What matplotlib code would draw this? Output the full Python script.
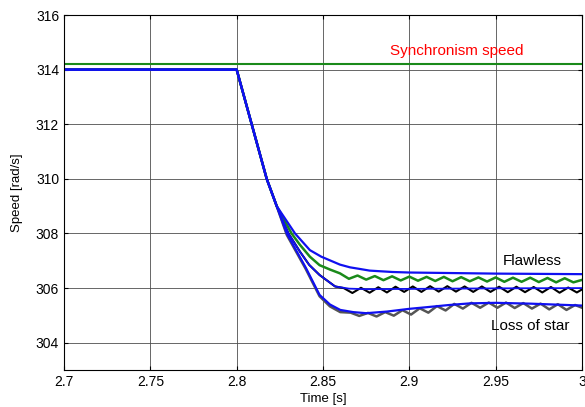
import matplotlib
matplotlib.use("Agg")
import matplotlib.pyplot as plt

plt.rcParams['font.family'] = ['Liberation Sans', 'DejaVu Sans']

# synchronism speed
t_sync = [2.7, 3.0]
v_sync = [314.2, 314.2]

# flawless, filtered (top blue)
t_b1 = [2.7, 2.8, 2.8087, 2.8174, 2.8232, 2.8338, 2.8424, 2.849, 2.8598, 2.8656,
        2.8714, 2.877, 2.89, 2.9, 2.95, 3.0]
v_b1 = [314, 314, 312, 310, 309, 308, 307.39, 307.15, 306.86, 306.76,
        306.70, 306.64, 306.59, 306.57, 306.53, 306.51]

# green rippled
t_g = [2.7, 2.8, 2.8087, 2.8174, 2.8232, 2.8318, 2.8367, 2.8424, 2.848, 2.854, 2.8598,
       2.865, 2.870, 2.875, 2.880, 2.885, 2.890, 2.895, 2.900, 2.905, 2.910,
       2.915, 2.920, 2.925, 2.930, 2.935, 2.940, 2.945, 2.950, 2.955, 2.960,
       2.965, 2.970, 2.975, 2.980, 2.985, 2.990, 2.995, 3.0]
v_g = [314, 314, 312, 310, 309, 308, 307.58, 307.15, 306.84, 306.68, 306.54,
       306.34, 306.46, 306.31, 306.44, 306.29, 306.43, 306.28, 306.42, 306.27, 306.41,
       306.26, 306.41, 306.25, 306.40, 306.25, 306.39, 306.24, 306.39, 306.23, 306.38,
       306.23, 306.38, 306.22, 306.37, 306.21, 306.36, 306.21, 306.30]

# black rippled
t_k = [2.7, 2.8, 2.8087, 2.8174, 2.8232, 2.830, 2.8367, 2.842, 2.848, 2.857,
       2.862, 2.867, 2.872, 2.877, 2.882, 2.887, 2.892, 2.897, 2.902, 2.907,
       2.912, 2.917, 2.922, 2.927, 2.932, 2.937, 2.942, 2.947, 2.952, 2.957,
       2.962, 2.967, 2.972, 2.977, 2.982, 2.987, 2.992, 2.997, 3.0]
v_k = [314, 314, 312, 310, 309, 308, 307.33, 306.85, 306.48, 306.06,
       306.00, 305.82, 306.01, 305.83, 306.03, 305.84, 306.05, 305.86, 306.06, 305.86,
       306.07, 305.87, 306.07, 305.87, 306.06, 305.86, 306.06, 305.86, 306.05, 305.85,
       306.05, 305.85, 306.04, 305.84, 306.04, 305.83, 306.02, 305.84, 305.95]

# middle blue (on black)
t_b2 = [2.7, 2.8, 2.8087, 2.8174, 2.8232, 2.830, 2.8367, 2.842, 2.848, 2.857,
        2.865, 2.875, 2.9, 2.95, 3.0]
v_b2 = [314, 314, 312, 310, 309, 308, 307.33, 306.85, 306.48, 306.06,
        305.98, 305.96, 305.97, 305.99, 306.0]

# loss of star, rippled (dark gray)
t_d = [2.7, 2.8, 2.8087, 2.8174, 2.8232, 2.829, 2.84, 2.848, 2.854, 2.86,
       2.866, 2.871, 2.876, 2.881, 2.886, 2.891, 2.896, 2.901, 2.906, 2.911,
       2.916, 2.921, 2.926, 2.931, 2.936, 2.941, 2.946, 2.951, 2.956, 2.961,
       2.966, 2.971, 2.976, 2.981, 2.986, 2.991, 2.996, 3.0]
v_d = [314, 314, 312, 310, 309, 307.95, 306.7, 305.7, 305.33, 305.12,
       305.10, 304.98, 305.09, 304.96, 305.12, 304.99, 305.19, 305.03, 305.26, 305.10,
       305.34, 305.18, 305.42, 305.25, 305.46, 305.28, 305.47, 305.28, 305.47, 305.27,
       305.45, 305.25, 305.43, 305.22, 305.41, 305.20, 305.38, 305.28]

# loss of star, filtered (lower blue)
t_b3 = [2.7, 2.8, 2.8087, 2.8174, 2.8232, 2.829, 2.84, 2.848, 2.854, 2.86,
        2.8675, 2.875, 2.887, 2.9, 2.91, 2.923, 2.935, 2.95, 2.97, 3.0]
v_b3 = [314, 314, 312, 310, 309, 308, 306.75, 305.75, 305.4, 305.2,
        305.12, 305.08, 305.14, 305.24, 305.3, 305.38, 305.44, 305.46, 305.43, 305.36]

xticks = [2.7, 2.75, 2.8, 2.85, 2.9, 2.95, 3.0]
xlabels = ['2.7', '2.75', '2.8', '2.85', '2.9', '2.95', '3']
yticks = [304, 306, 308, 310, 312, 314, 316]

fig = plt.figure(figsize=(5.85, 4.07), dpi=100)
ax = fig.add_axes([0.1094, 0.0909, 0.8855, 0.8722])

ax.plot(t_sync, v_sync, color='#1a8a1a', lw=1.5)
ax.plot(t_d, v_d, color='#555555', lw=1.8)
ax.plot(t_k, v_k, color='black', lw=1.5)
ax.plot(t_g, v_g, color='#1a8a1a', lw=1.8)
ax.plot(t_b1, v_b1, color='#1010f0', lw=1.6)
ax.plot(t_b2, v_b2, color='#1010f0', lw=1.3)
ax.plot(t_b3, v_b3, color='#1010f0', lw=1.6)

ax.set_xlim(2.7, 3.0)
ax.set_ylim(303, 316)
ax.set_xticks(xticks)
ax.set_xticklabels(xlabels)
ax.set_yticks(yticks)
ax.grid(True, color='0.3', lw=0.6)
ax.tick_params(direction='in', length=3, labelsize=10, top=True, right=True)
for s in ax.spines.values():
    s.set_linewidth(0.8)

ax.text(2.9276, 314.7, 'Synchronism speed', color='red', fontsize=11, ha='center', va='center')
ax.text(2.971, 307.0, 'Flawless', color='black', fontsize=11, ha='center', va='center')
ax.text(2.970, 304.6, 'Loss of star', color='black', fontsize=11, ha='center', va='center')

ax.set_xlabel('Time [s]', fontsize=9.5, labelpad=3)
ax.set_ylabel('Speed [rad/s]', fontsize=9.5, labelpad=9)

fig.savefig('out.png', dpi=100)
